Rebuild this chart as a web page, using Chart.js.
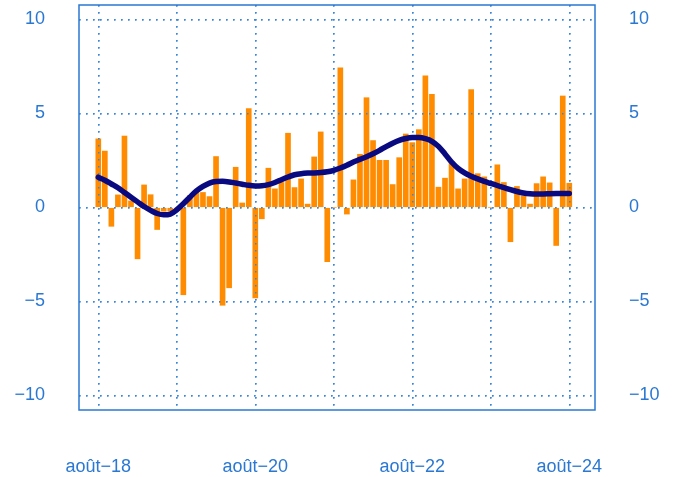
<!DOCTYPE html>
<html>
<head>
<meta charset="utf-8">
<script src="https://cdn.jsdelivr.net/npm/chart.js@4/dist/chart.umd.min.js"></script>
<style>
  html, body { margin: 0; padding: 0; background: #ffffff; }
  #wrap { width: 675px; height: 477px; position: relative; }
</style>
</head>
<body>
<div id="wrap"><canvas id="c" width="675" height="477"></canvas></div>
<script>
// Months Aug 2018 .. Aug 2024
const months = [
  'août-18','sept-18','oct-18','nov-18','déc-18',
  'janv-19','févr-19','mars-19','avr-19','mai-19','juin-19','juil-19','août-19','sept-19','oct-19','nov-19','déc-19',
  'janv-20','févr-20','mars-20','avr-20','mai-20','juin-20','juil-20','août-20','sept-20','oct-20','nov-20','déc-20',
  'janv-21','févr-21','mars-21','avr-21','mai-21','juin-21','juil-21','août-21','sept-21','oct-21','nov-21','déc-21',
  'janv-22','févr-22','mars-22','avr-22','mai-22','juin-22','juil-22','août-22','sept-22','oct-22','nov-22','déc-22',
  'janv-23','févr-23','mars-23','avr-23','mai-23','juin-23','juil-23','août-23','sept-23','oct-23','nov-23','déc-23',
  'janv-24','févr-24','mars-24','avr-24','mai-24','juin-24','juil-24','août-24'
];

// Monthly values (bars)
const monthlyValues = [
  3.65, 3.0, -1.0, 0.67, 3.8,
  0.35, -2.73, 1.2, 0.68, -1.17, -0.2, -0.18, -0.1, -4.64, 0.63, 0.87, 0.8,
  0.58, 2.71, -5.2, -4.27, 2.14, 0.24, 5.26, -4.81, -0.6, 2.09, 0.99, 1.33,
  3.95, 1.06, 1.52, 0.18, 2.69, 4.02, -2.88, 0.0, 7.43, -0.35, 1.47, 2.83,
  5.84, 3.56, 2.51, 2.51, 1.22, 2.65, 3.91, 3.45, 4.14, 7.0, 6.02, 1.08,
  1.56, 2.44, 0.99, 1.52, 6.27, 1.8, 1.63, 0.0, 2.27, 1.33, -1.82, 1.12,
  0.62, 0.18, 1.27, 1.63, 1.31, -2.02, 5.93, 1.29
];

// Smoothed trend (line)
const trendValues = [
  1.61, 1.45, 1.25, 1.05, 0.8,
  0.55, 0.3, 0.05, -0.15, -0.32, -0.39, -0.35, -0.12, 0.2, 0.55, 0.88, 1.12,
  1.3, 1.38, 1.39, 1.36, 1.3, 1.24, 1.18, 1.15, 1.16, 1.22, 1.33, 1.48,
  1.62, 1.74, 1.8, 1.83, 1.84, 1.86, 1.9, 1.98, 2.1, 2.25, 2.42, 2.56,
  2.7, 2.86, 3.04, 3.24, 3.42, 3.57, 3.67, 3.72, 3.72, 3.66, 3.52, 3.25,
  2.85, 2.42, 2.08, 1.84, 1.66, 1.52, 1.39, 1.28, 1.17, 1.06, 0.95, 0.85,
  0.77, 0.73, 0.72, 0.72, 0.73, 0.74, 0.75, 0.75
];

// Axis ticks
const yTicks = [-10, -5, 0, 5, 10];
const xGridMonths = [0, 12, 24, 36, 48, 60, 72];
const xTickLabels = { 0: 'août\u221218', 24: 'août\u221220', 48: 'août\u221222', 72: 'août\u221224' };

const BLUE = '#2a78d2';
const GRID = '#3b86d6';
const FONT = { family: "'Liberation Sans', Arial, sans-serif", size: 18 };

const barData = monthlyValues.map((v, i) => ({ x: i, y: v }));
const lineData = trendValues.map((v, i) => ({ x: i, y: v }));

const gridOverBars = {
  id: 'gridOverBars',
  afterDatasetDraw(chart, args) {
    if (args.index !== 0) return;
    const ca = chart.chartArea;
    chart.scales.x.drawGrid(ca);
    chart.scales.y.drawGrid(ca);
  }
};

const frame = {
  id: 'frame',
  afterDraw(chart) {
    const { ctx, chartArea: a } = chart;
    ctx.save();
    ctx.strokeStyle = BLUE;
    ctx.lineWidth = 1.5;
    ctx.strokeRect(a.left, a.top, a.right - a.left, a.bottom - a.top);
    ctx.restore();
  }
};

const fmtY = (v) => (v < 0 ? '\u2212' + Math.abs(v) : String(v));

new Chart(document.getElementById('c'), {
  type: 'bar',
  data: {
    datasets: [
      {
        type: 'bar',
        label: 'mensuel',
        data: barData,
        backgroundColor: '#ff8c00',
        borderWidth: 0,
        barThickness: 5,
        order: 1
      },
      {
        type: 'line',
        label: 'tendance',
        data: lineData,
        borderColor: '#0a0a80',
        borderWidth: 5.5,
        pointRadius: 0,
        tension: 0.4,
        cubicInterpolationMode: 'monotone',
        borderCapStyle: 'round',
        fill: false,
        order: 0
      }
    ]
  },
  options: {
    responsive: false,
    animation: false,
    layout: { padding: { top: 5, left: 0, right: 0, bottom: 0 } },
    plugins: { legend: { display: false }, tooltip: { enabled: false } },
    scales: {
      x: {
        type: 'linear',
        offset: false,
        min: -2.95,
        max: 75.93,
        afterBuildTicks(scale) { scale.ticks = xGridMonths.map(v => ({ value: v })); },
        afterFit(scale) { scale.height = 67; scale.paddingLeft = 0; scale.paddingRight = 0; },
        grid: { display: true, offset: false, drawTicks: false, color: GRID, lineWidth: 1.5 },
        border: { display: false, dash: [1.5, 5.5] },
        ticks: {
          color: BLUE, font: FONT, padding: 46, maxRotation: 0, autoSkip: false,
          callback: (v) => xTickLabels[v] || ''
        }
      },
      y: {
        position: 'left',
        min: -10.77,
        max: 10.77,
        afterBuildTicks(scale) { scale.ticks = yTicks.map(v => ({ value: v })); },
        afterFit(scale) { scale.width = 79; scale.paddingTop = 0; scale.paddingBottom = 0; },
        grid: { display: true, drawTicks: false, color: GRID, lineWidth: 1.5 },
        border: { display: false, dash: [1.5, 5.5] },
        ticks: { color: BLUE, font: FONT, padding: 34, callback: fmtY }
      },
      y2: {
        position: 'right',
        min: -10.77,
        max: 10.77,
        afterBuildTicks(scale) { scale.ticks = yTicks.map(v => ({ value: v })); },
        afterFit(scale) { scale.width = 80; scale.paddingTop = 0; scale.paddingBottom = 0; },
        grid: { display: false, drawTicks: false },
        border: { display: false },
        ticks: { color: BLUE, font: FONT, padding: 34, callback: fmtY }
      }
    }
  },
  plugins: [gridOverBars, frame]
});
</script>
</body>
</html>
